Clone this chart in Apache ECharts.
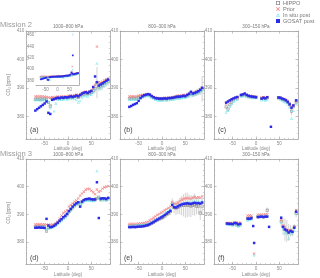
<!DOCTYPE html>
<html><head><meta charset="utf-8">
<script src="https://cdn.jsdelivr.net/npm/echarts@6/dist/echarts.min.js"></script>
<style>html,body{margin:0;padding:0;background:#fff}#c{width:320px;height:278px}</style>
</head><body><div id="c"></div>
<script>
// ---------------- DATA ----------------
const seriesNames = ['HIPPO', 'Prior', 'In situ post', 'GOSAT post'];
const missionTitles = ['Mission 2', 'Mission 3'];
const layerTitles = ['1000\u2013800 hPa', '800\u2013300 hPa', '300\u2013150 hPa'];
const panelLabels = ['(a)', '(b)', '(c)', '(d)', '(e)', '(f)'];
const latTicks = [-50, 0, 50];
const co2Ticks = [380, 390, 400, 410];
const insetTicks = [380, 400, 420, 440, 460];

// Mission 2, 1000-800 hPa
const latA = [-70,-66,-62,-58,-54,-50,-46,-42,-38,-34,-30,-26,-22,-18,-14,-10,-6,-2,2,6,10,14,18,22,26,30,34,38,42,46,50,54,58,62,64,66,70,74,78,82,86];
const hippoA = [386.0,386.1,386.0,386.1,386.0,386.2,386.0,384.8,383.6,386.2,386.3,386.2,386.4,386.3,386.5,386.4,386.6,386.5,386.7,386.8,386.6,386.9,387.0,386.6,387.2,387.6,387.8,388.0,387.9,388.2,388.3,389.0,389.8,391.8,null,390.3,390.6,390.9,391.5,392.0,392.4];
const priorA = [387.0,387.1,387.0,387.1,387.0,386.9,386.8,386.6,386.5,386.7,386.6,386.8,386.9,386.8,387.0,387.0,387.1,387.0,387.2,387.3,387.2,387.4,387.6,387.5,387.8,388.2,388.4,388.6,388.5,388.8,389.2,390.0,391.0,404.5,null,392.0,391.8,392.2,392.6,393.0,393.2];
const insituA = [385.8,385.9,385.8,385.7,385.9,385.6,385.5,385.0,383.0,385.8,381.8,384.6,386.0,385.9,386.1,386.0,386.2,386.1,386.3,386.4,386.2,386.3,386.0,385.0,385.4,386.8,387.2,387.4,387.0,387.6,387.8,388.4,389.5,398.6,461.0,390.0,389.8,390.5,391.0,391.4,392.0];
const gosatA = [382.0,382.5,383.0,383.5,384.0,384.5,385.2,381.2,380.8,385.8,386.0,386.3,386.5,386.4,386.6,386.5,386.7,386.6,386.8,387.0,386.8,387.0,387.3,387.0,387.5,388.0,388.3,388.5,388.2,388.6,388.9,390.3,394.0,392.0,424.0,390.8,391.2,391.6,392.0,392.5,392.9];
const errA = [0.4,0.4,0.4,0.4,0.4,0.4,0.4,0.5,0.5,0.4,0.5,0.5,0.5,0.5,0.5,0.5,0.5,0.5,0.5,0.5,0.5,0.5,0.5,0.5,0.6,0.8,0.8,0.8,0.8,0.8,0.9,1.0,1.5,5.5,null,1.5,1.5,1.5,1.5,1.5,1.5];

// Mission 2, 800-300 hPa
const latB = [-70,-66,-62,-58,-54,-50,-46,-42,-38,-34,-30,-26,-22,-18,-14,-10,-6,-2,2,6,10,14,18,22,26,30,34,38,42,46,50,54,58,62,66,70,74,78,82,86];
const hippoB = [386.3,386.3,386.4,386.3,386.4,386.6,386.9,387.1,387.3,387.5,387.6,387.4,387.0,386.6,386.3,386.2,386.1,386.1,386.1,386.2,386.1,386.3,386.3,386.4,386.5,386.7,386.8,386.8,386.9,387.1,387.0,387.3,387.6,388.1,387.8,388.0,388.3,388.6,389.0,389.6];
const priorB = [387.0,387.0,387.1,387.0,387.1,387.2,387.4,387.5,387.6,387.7,387.7,387.5,387.1,386.8,386.5,386.4,386.3,386.3,386.4,386.5,386.4,386.6,386.6,386.7,386.9,387.1,387.2,387.2,387.3,387.5,387.4,387.7,388.0,388.5,388.2,388.4,388.7,389.0,389.4,390.0];
const insituB = [385.9,385.9,386.0,385.9,386.0,386.2,386.5,386.8,387.0,387.2,387.3,387.1,386.6,386.2,385.9,385.8,385.7,385.6,385.7,385.8,385.7,385.8,385.9,385.9,386.1,386.3,386.4,386.4,386.5,386.7,386.6,386.9,387.2,387.6,387.4,387.6,387.9,388.2,388.6,389.1];
const gosatB = [383.3,383.6,384.0,384.3,384.6,385.4,386.4,387.0,387.4,387.6,387.8,387.6,387.1,386.7,386.4,386.3,386.2,386.2,386.2,386.3,386.2,386.4,386.4,386.5,386.6,386.8,386.9,386.9,387.0,387.2,387.1,387.5,387.9,388.6,388.0,388.2,388.5,388.8,389.3,390.0];
const errB = [0.3,0.3,0.3,0.3,0.3,0.3,0.3,0.3,0.3,0.3,0.4,0.4,0.4,0.4,0.4,0.4,0.5,0.5,0.5,0.5,0.5,0.5,0.5,0.5,0.5,0.6,0.6,0.6,0.7,0.8,0.8,0.9,1.0,1.2,1.0,1.0,1.2,1.2,1.5,4.5];

// Mission 2, 300-150 hPa
const latC = [-64,-60,-56,-52,-48,-44,-40,-32,-28,-24,-20,-16,-12,-8,-4,0,12,16,20,24,32,48,52,56,60,64,68,72,76,80,86];
const hippoC = [383.3,382.5,384.0,385.0,385.8,386.3,386.4,387.3,387.5,387.6,387.2,387.0,386.9,386.8,386.8,386.7,386.3,386.4,386.2,386.5,null,386.5,386.4,386.0,385.8,385.5,385.0,384.0,381.8,383.5,385.0];
const priorC = [384.5,385.0,385.5,386.0,386.2,386.5,386.6,387.5,387.6,387.8,387.6,387.3,387.2,387.0,387.0,386.9,386.6,386.7,386.5,386.8,null,386.7,386.6,386.3,386.1,385.8,385.4,384.6,383.5,383.8,385.2];
const insituC = [381.5,382.0,383.5,384.5,385.3,385.8,386.0,387.0,387.2,387.3,387.0,386.8,386.7,386.5,386.6,386.5,385.8,386.0,385.5,386.0,null,386.2,386.0,385.5,385.2,385.0,384.3,383.2,379.3,382.0,384.5];
const gosatC = [384.8,385.2,385.6,386.0,386.3,386.6,386.8,387.5,387.7,388.0,387.5,387.2,387.0,386.9,386.8,386.7,386.2,386.5,386.3,386.7,376.3,386.6,386.5,386.2,386.0,385.6,385.0,384.2,383.0,383.8,385.6];
const errC = [0.6,0.6,0.5,0.5,0.4,0.4,0.4,0.4,0.4,0.4,0.4,0.4,0.4,0.4,0.4,0.4,0.5,0.5,0.5,0.5,null,0.5,0.5,0.5,0.5,0.6,0.8,1.0,1.5,1.0,0.8];

// Mission 3, 1000-800 hPa
const latD = [-70,-66,-62,-58,-54,-50,-46,-42,-38,-34,-30,-26,-22,-18,-14,-10,-6,-2,2,6,10,14,18,22,26,30,34,38,42,46,50,54,58,62,66,70,74,78,82,86];
const hippoD = [385.7,385.7,385.8,385.7,385.7,385.6,384.0,385.3,385.5,385.6,386.0,386.5,387.0,387.6,388.2,388.8,389.3,390.0,391.0,391.8,392.6,393.3,393.8,394.2,393.5,394.5,395.0,395.3,395.4,395.5,395.3,395.2,395.5,395.8,396.2,395.5,395.6,395.6,395.4,395.8];
const priorD = [386.4,386.5,386.4,386.5,386.4,386.4,386.3,386.2,386.3,386.3,386.4,386.8,387.5,388.5,389.5,390.5,391.0,391.5,392.8,393.4,394.0,394.6,395.0,395.8,396.8,397.5,398.2,398.9,399.2,399.2,398.6,398.0,397.3,399.0,398.2,398.5,399.3,399.8,400.0,400.2];
const insituD = [385.4,385.5,385.5,385.4,385.5,385.3,384.5,385.0,385.2,385.3,385.7,386.2,386.7,387.3,387.9,388.5,389.0,389.7,390.7,391.5,392.3,393.0,393.5,393.9,393.8,394.2,394.7,395.0,395.1,395.2,395.0,394.9,395.2,405.7,395.9,395.2,395.3,395.3,395.1,395.5];
const gosatD = [385.2,385.2,385.3,385.2,385.2,385.1,388.4,386.0,385.4,385.5,385.9,386.4,387.0,387.7,388.3,389.0,389.5,390.2,391.2,392.0,392.8,393.5,394.0,394.4,392.8,394.6,395.2,395.5,395.6,395.7,395.5,395.4,395.4,401.6,388.7,395.7,395.8,395.8,395.6,396.0];
const errD = [0.3,0.3,0.3,0.3,0.3,0.3,0.3,0.3,0.3,0.3,0.3,0.3,0.3,0.3,0.3,0.3,0.3,0.3,0.3,0.3,0.3,0.3,0.3,0.3,0.3,0.4,0.4,0.4,0.4,0.4,0.4,0.4,0.5,0.6,0.6,0.5,0.5,0.5,0.5,0.5];

// Mission 3, 800-300 hPa
const latE = [-70,-66,-62,-58,-54,-50,-46,-42,-38,-34,-30,-26,-22,-18,-14,-10,-6,-2,2,6,10,14,18,22,26,30,34,38,42,46,50,54,58,62,66,70,74,78,82,86];
const hippoE = [385.8,385.8,385.9,385.8,385.8,385.9,385.8,385.9,385.9,386.0,386.2,386.5,386.8,387.2,387.6,388.0,388.3,388.6,389.0,389.5,390.0,390.5,391.0,393.8,392.5,392.3,392.6,393.0,393.2,393.3,393.3,393.4,393.2,393.0,393.2,393.5,393.0,393.0,390.5,393.0];
const priorE = [386.5,386.6,386.6,386.5,386.6,386.7,386.7,386.8,386.9,387.1,387.4,387.8,388.3,388.8,389.3,389.8,390.2,390.6,391.0,391.5,391.9,392.3,392.8,394.5,393.8,393.8,394.2,394.8,395.3,395.6,395.8,395.9,395.8,395.7,396.0,396.3,396.0,396.2,396.0,396.5];
const insituE = [386.0,386.0,386.1,386.0,386.0,386.1,386.1,386.2,386.3,386.5,386.7,387.0,387.4,387.8,388.2,388.6,389.0,389.4,389.8,390.3,390.8,391.3,391.8,393.9,393.0,393.0,393.3,393.7,394.0,394.2,394.4,394.5,394.4,394.3,394.5,394.7,394.5,394.6,394.4,394.8];
const gosatE = [385.4,385.4,385.5,385.4,385.5,385.6,385.6,385.7,385.8,386.0,386.2,386.5,386.9,387.3,387.7,388.1,388.5,388.9,389.3,389.8,390.3,390.8,391.3,393.4,392.6,392.5,392.9,393.3,393.6,393.8,393.9,394.0,393.9,393.8,394.0,394.2,394.0,394.1,393.9,394.3];
const errE = [0.3,0.3,0.3,0.3,0.3,0.3,0.3,0.3,0.3,0.3,0.4,0.4,0.5,0.5,0.6,0.6,0.6,0.7,0.8,0.8,1.0,1.0,1.2,2.0,2.0,2.5,2.5,3.0,3.5,4.0,4.5,4.5,4.0,4.0,3.5,4.0,3.0,3.0,2.5,3.0];

// Mission 3, 300-150 hPa
const latF = [-62,-58,-54,-50,-46,-42,-38,-34,-18,-14,-10,-6,-4,4,8,12,16,20,24,28,54,58,62,66,70,74,78,82,86];
const hippoF = [386.7,386.6,386.6,386.5,386.8,386.5,386.0,386.4,388.4,388.6,388.8,null,null,389.3,389.2,389.3,389.2,389.4,391.5,null,387.5,385.5,384.5,384.0,383.5,384.0,383.8,385.5,390.5];
const priorF = [386.9,386.8,386.9,386.8,387.0,387.2,386.8,387.0,389.5,389.6,389.5,null,375.8,389.9,389.8,389.9,389.8,390.0,390.0,null,388.0,386.0,385.5,384.5,384.3,384.3,384.0,385.5,391.5];
const insituF = [386.4,386.3,386.3,386.2,386.5,386.0,385.6,386.0,388.0,388.2,388.3,null,375.3,389.6,389.6,389.5,389.5,389.7,389.7,null,387.2,384.8,383.5,383.0,381.5,383.3,383.0,384.2,390.5];
const gosatF = [386.7,386.6,386.6,386.5,386.9,386.8,386.4,386.6,388.5,388.4,388.6,385.8,379.7,389.0,389.1,389.2,389.0,389.2,389.2,385.5,388.8,385.5,384.6,384.2,383.5,384.0,383.7,385.2,391.0];
const errF = [0.4,0.4,0.4,0.4,0.4,0.4,0.4,0.4,0.6,0.6,0.6,null,null,0.5,0.5,0.5,0.5,0.5,1.0,null,2.0,3.0,4.0,4.0,3.0,2.0,1.5,1.0,1.5];

// ---------------- STYLE ----------------
const AX = '#a2a2a2', LBL = '#8a8a8a', FONT = 'Liberation Sans';
const COLORS = ['#8c8c8c', '#f28585', '#6fe3ec', '#2b2be8'];
const SYM = [
  'path://M0,0H10V10H0Z M2,2V8H8V2Z',
  'path://M0,1.5L1.5,0L5,3.5L8.5,0L10,1.5L6.5,5L10,8.5L8.5,10L5,6.5L1.5,10L0,8.5L3.5,5Z',
  'path://M5,0L10,9L0,9Z M5,3L2.4,7.6L7.6,7.6Z',
  'rect'
];

const panels = [
  {left:26,  top:31,  lat:latA, v:[hippoA,priorA,insituA,gosatA], err:errA},
  {left:120, top:31,  lat:latB, v:[hippoB,priorB,insituB,gosatB], err:errB},
  {left:214, top:31,  lat:latC, v:[hippoC,priorC,insituC,gosatC], err:errC},
  {left:26,  top:159, lat:latD, v:[hippoD,priorD,insituD,gosatD], err:errD},
  {left:120, top:159, lat:latE, v:[hippoE,priorE,insituE,gosatE], err:errE},
  {left:214, top:159, lat:latF, v:[hippoF,priorF,insituF,gosatF], err:errF}
];
const PW = 84, PH = 108;

const option = {
  animation: false, backgroundColor: '#fff',
  grid: [], xAxis: [], yAxis: [], series: [], title: [], graphic: [],
  legend: {
    orient: 'vertical', left: 276, top: 0, itemGap: 0, itemWidth: 4, itemHeight: 4,
    padding: 0, selectedMode: false,
    textStyle: {fontSize: 5.6, color: '#777', fontFamily: FONT, padding: [0,0,0,-2], lineHeight: 5.5},
    data: seriesNames.map((n, i) => ({name: n, icon: SYM[i]}))
  }
};

function addAxes(gi, c) {
  const base = {gridIndex: gi, type: 'value', splitLine: {show: false}};
  const line = {show: true, onZero: false, lineStyle: {color: AX, width: 0.8}};
  const noLine = {show: false, onZero: false};
  const tickMinor = {show: true, inside: true, length: 1.2, lineStyle: {color: AX, width: 0.5}};
  const tickMajor = {show: true, inside: true, length: 2.6, lineStyle: {color: AX, width: 0.6}};
  const xi = option.xAxis.length, yi = option.yAxis.length;
  const xr = {min: c.xMin, max: c.xMax};
  const yr = {min: c.yMin, max: c.yMax};
  option.xAxis.push(Object.assign({}, base, xr, {
    position: 'bottom', interval: c.xMinor, axisLine: line, axisTick: tickMinor,
    axisLabel: {show: true, fontSize: 4.6, color: LBL, fontFamily: FONT, margin: 1.8,
      formatter: v => c.xMajors.indexOf(v) >= 0 ? String(v) : ''},
    name: c.xName || '', nameLocation: 'middle', nameGap: 7.5,
    nameTextStyle: {fontSize: 4.6, color: LBL, fontFamily: FONT}
  }));
  option.xAxis.push(Object.assign({}, base, xr, {position: 'bottom', axisLine: noLine,
    axisTick: Object.assign({customValues: c.xMajors}, tickMajor), axisLabel: {show: false}}));
  option.xAxis.push(Object.assign({}, base, xr, {position: 'top', interval: c.xMinor, axisLine: line,
    axisTick: tickMinor, axisLabel: {show: false}}));
  option.xAxis.push(Object.assign({}, base, xr, {position: 'top', axisLine: noLine,
    axisTick: Object.assign({customValues: c.xMajors}, tickMajor), axisLabel: {show: false}}));
  option.yAxis.push(Object.assign({}, base, yr, {
    position: 'left', interval: c.yMinor, axisLine: line, axisTick: tickMinor,
    axisLabel: {show: true, fontSize: 4.6, color: LBL, fontFamily: FONT, margin: 1.6,
      formatter: v => c.yMajors.indexOf(v) >= 0 ? String(v) : ''}
  }));
  option.yAxis.push(Object.assign({}, base, yr, {position: 'left', axisLine: noLine,
    axisTick: Object.assign({customValues: c.yMajors}, tickMajor), axisLabel: {show: false}}));
  option.yAxis.push(Object.assign({}, base, yr, {position: 'right', interval: c.yMinor, axisLine: line,
    axisTick: tickMinor, axisLabel: {show: false}}));
  option.yAxis.push(Object.assign({}, base, yr, {position: 'right', axisLine: noLine,
    axisTick: Object.assign({customValues: c.yMajors}, tickMajor), axisLabel: {show: false}}));
  return [xi, yi];
}

function addSeries(gi, xi, yi, p, symSize, z) {
  const errData = [];
  p.lat.forEach((x, i) => {
    const h = p.v[0][i], e = p.err[i];
    if (h != null && e != null) errData.push([x, h - e, h + e]);
  });
  option.series.push({
    type: 'custom', xAxisIndex: xi, yAxisIndex: yi, z: z, silent: true, data: errData,
    renderItem: (params, api) => {
      const cs = params.coordSys;
      const a = api.coord([api.value(0), api.value(1)]);
      const b = api.coord([api.value(0), api.value(2)]);
      const y1 = Math.max(cs.y, Math.min(cs.y + cs.height, a[1]));
      const y2 = Math.max(cs.y, Math.min(cs.y + cs.height, b[1]));
      return {type: 'line', shape: {x1: a[0], y1: y1, x2: b[0], y2: y2},
        style: {stroke: '#b5b5b5', lineWidth: 0.6}};
    }
  });
  seriesNames.forEach((n, k) => {
    const data = [];
    p.lat.forEach((x, i) => { if (p.v[k][i] != null) data.push([x, p.v[k][i]]); });
    option.series.push({
      type: 'scatter', name: n, xAxisIndex: xi, yAxisIndex: yi, z: z + 1 + k, clip: true,
      symbol: SYM[k], symbolSize: k === 3 ? symSize * 0.85 : symSize,
      itemStyle: {color: COLORS[k], opacity: 1}, data: data
    });
  });
}

panels.forEach((p, i) => {
  const gi = option.grid.length;
  option.grid.push({left: p.left, top: p.top, width: PW, height: PH, containLabel: false});
  const [xi, yi] = addAxes(gi, {xMin: -90, xMax: 90, xMinor: 10, xMajors: latTicks,
    yMin: 372, yMax: 410, yMinor: 2, yMajors: co2Ticks,
    xName: 'Latitude (deg)'});
  addSeries(gi, xi, yi, p, 2.9, 3);
  option.title.push({text: layerTitles[i % 3], left: p.left + PW / 2, top: p.top - 6.6, textAlign: 'center',
    padding: 0, textStyle: {fontSize: 4.6, fontWeight: 'normal', color: '#777', fontFamily: FONT}});
  option.graphic.push({type: 'text', left: p.left + 4, top: p.top + PH - 12, z: 50,
    style: {text: panelLabels[i], fontSize: 7, fill: '#444', fontFamily: FONT}});
});

// inset in panel (a): same Mission 2 lower-layer data on an extended scale
{
  const gi = option.grid.length;
  option.grid.push({left: 36, top: 32, width: 43, height: 53, show: true,
    backgroundColor: '#fff', borderWidth: 0, z: 5});
  const [xi, yi] = addAxes(gi, {xMin: -90, xMax: 90, xMinor: 10, xMajors: latTicks,
    yMin: 372, yMax: 465, yMinor: 4, yMajors: insetTicks});
  addSeries(gi, xi, yi, panels[0], 2.0, 20);
}

missionTitles.forEach((t, r) => {
  option.title.push({text: t, left: 0, top: r === 0 ? 21 : 149.5, padding: 0,
    textStyle: {fontSize: 7.6, fontWeight: 'normal', color: '#9a9a9a', fontFamily: FONT}});
  option.graphic.push({type: 'text', x: 9, y: (r === 0 ? 31 : 159) + PH / 2, rotation: Math.PI / 2,
    style: {text: 'CO\u2082 [ppm]', fontSize: 4.6, fill: LBL, fontFamily: FONT,
      textAlign: 'center', textVerticalAlign: 'middle'}});
});

const chart = echarts.init(document.getElementById('c'), null, {renderer: 'canvas'});
chart.setOption(option);
</script></body></html>
